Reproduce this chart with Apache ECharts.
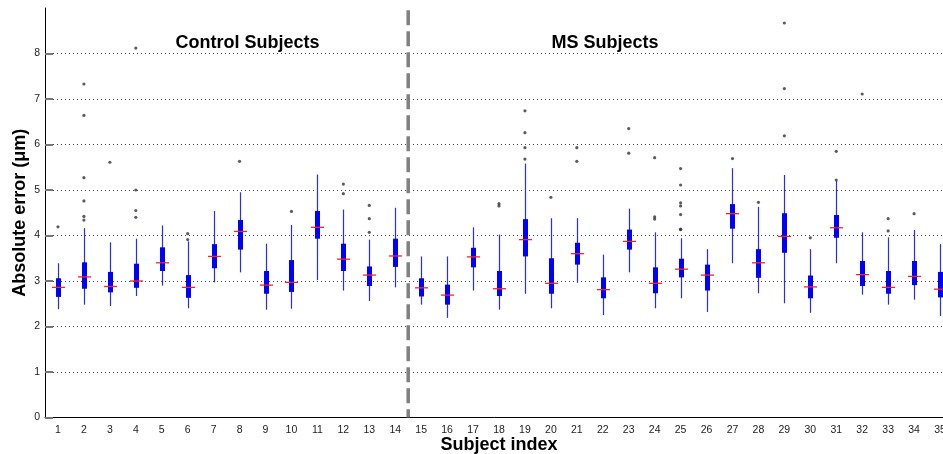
<!DOCTYPE html>
<html>
<head>
<meta charset="utf-8">
<script src="https://cdn.jsdelivr.net/npm/echarts@6/dist/echarts.min.js"></script>
<style>html,body{margin:0;padding:0;background:#fff;}#c{width:943px;height:454px;}</style>
</head>
<body>
<div id="c"></div>
<script>
const categories = ['1','2','3','4','5','6','7','8','9','10','11','12','13','14','15','16','17','18','19','20','21','22','23','24','25','26','27','28','29','30','31','32','33','34','35'];
const yTicks = [0,1,2,3,4,5,6,7,8];
const whiskerLow  = [2.38,2.48,2.45,2.67,2.90,2.40,2.97,3.19,2.37,2.39,3.02,2.79,2.56,2.86,2.48,2.19,2.79,2.37,2.72,2.40,2.96,2.25,3.19,2.40,2.62,2.32,3.39,2.73,2.51,2.30,3.39,2.70,2.48,2.59,2.23];
const q1          = [2.65,2.83,2.75,2.85,3.22,2.63,3.28,3.69,2.72,2.76,3.93,3.22,2.89,3.31,2.66,2.48,3.30,2.67,3.54,2.72,3.36,2.62,3.69,2.73,3.08,2.79,4.15,3.07,3.62,2.62,3.95,2.89,2.72,2.91,2.64];
const median      = [2.86,3.09,2.88,3.00,3.40,2.86,3.54,4.09,2.91,2.97,4.18,3.48,3.13,3.55,2.85,2.69,3.53,2.83,3.91,2.95,3.60,2.81,3.87,2.95,3.26,3.13,4.48,3.40,3.98,2.87,4.17,3.14,2.86,3.10,2.82];
const q3          = [3.06,3.41,3.20,3.38,3.74,3.13,3.81,4.34,3.22,3.46,4.54,3.82,3.32,3.93,3.06,2.92,3.73,3.22,4.36,3.50,3.84,3.08,4.13,3.30,3.49,3.36,4.69,3.70,4.49,3.12,4.45,3.44,3.22,3.44,3.20];
const whiskerHigh = [3.39,4.16,3.85,3.93,4.22,3.87,4.54,4.95,3.82,4.23,5.34,4.57,3.91,4.61,3.54,3.54,4.18,4.02,5.58,4.38,4.38,3.58,4.59,4.07,3.94,3.70,5.48,4.63,5.33,3.70,5.20,4.07,3.96,4.12,3.81];
// [subject, value]
const outliers = [
  [1,4.19],
  [2,7.33],[2,6.64],[2,5.27],[2,4.76],[2,4.42],[2,4.34],
  [3,5.61],
  [4,8.12],[4,5.00],[4,4.55],[4,4.40],
  [6,4.04],[6,3.91],
  [8,5.63],
  [10,4.53],
  [12,5.13],[12,4.92],
  [13,4.66],[13,4.37],[13,4.07],
  [18,4.70],[18,4.65],
  [19,6.74],[19,6.26],[19,5.93],[19,5.68],
  [20,4.84],
  [21,5.93],[21,5.63],
  [23,6.35],[23,5.81],
  [24,5.71],[24,4.41],[24,4.36],
  [25,5.47],[25,5.11],[25,4.72],[25,4.65],[25,4.46],[25,4.14],[25,4.13],
  [27,5.69],
  [28,4.73],
  [29,8.67],[29,7.23],[29,6.19],
  [30,3.95],
  [31,5.85],[31,5.22],
  [32,7.11],
  [33,4.37],[33,4.10],
  [34,4.48]
];
const groupTitles = ['Control Subjects', 'MS Subjects'];
const separatorAfter = 14; // dashed line between subject 14 and 15

const FONT = '"Liberation Sans", Arial, Helvetica, sans-serif';
const boxData = categories.map((c, k) => [k, whiskerLow[k], q1[k], median[k], q3[k], whiskerHigh[k]]);
const outlierData = outliers.map(o => [o[0] - 1, o[1]]);

const chart = echarts.init(document.getElementById('c'), null, {renderer: 'canvas'});
chart.setOption({
  animation: false,
  backgroundColor: '#fff',
  grid: {left: 45, top: 8, width: 908, height: 409.5, containLabel: false, outerBoundsMode: 'none'},
  xAxis: {
    type: 'category',
    data: categories,
    boundaryGap: true,
    name: 'Subject index',
    nameLocation: 'middle',
    nameGap: 19,
    nameMoveOverlap: false,
    nameTextStyle: {fontFamily: FONT, fontWeight: 'bold', fontSize: 18, color: '#000'},
    axisLine: {show: true, lineStyle: {color: '#000', width: 1}},
    axisTick: {show: false},
    axisLabel: {fontFamily: FONT, fontSize: 10.5, color: '#222', margin: 7, interval: 0},
    splitLine: {show: false}
  },
  yAxis: {
    type: 'value',
    min: 0, max: 9, interval: 1,
    name: 'Absolute error (\u03bcm)',
    nameLocation: 'middle',
    nameRotate: 90,
    nameGap: 16,
    nameMoveOverlap: false,
    nameTextStyle: {fontFamily: FONT, fontWeight: 'bold', fontSize: 18, color: '#000'},
    axisLine: {show: true, lineStyle: {color: '#000', width: 1}},
    axisTick: {show: true, inside: true, length: 8, customValues: yTicks, lineStyle: {color: '#777', width: 2}},
    axisLabel: {fontFamily: FONT, fontSize: 10.5, color: '#222', margin: 5, customValues: yTicks},
    splitLine: {show: true, showMinLine: false, lineStyle: {color: '#444', width: 1, type: [1, 3]}}
  },
  graphic: [
    {type: 'text', x: 247.5, y: 43, style: {text: groupTitles[0], font: 'bold 18px ' + FONT, fill: '#000', align: 'center', verticalAlign: 'middle'}},
    {type: 'text', x: 605, y: 43, style: {text: groupTitles[1], font: 'bold 18px ' + FONT, fill: '#000', align: 'center', verticalAlign: 'middle'}}
  ],
  series: [
    {
      type: 'custom',
      silent: true,
      data: [[separatorAfter - 1, separatorAfter]],
      encode: {x: [0, 1]},
      renderItem: function (params, api) {
        const a = api.coord([api.value(0), 0]);
        const b = api.coord([api.value(1), 0]);
        const top = api.coord([api.value(0), 8.95]);
        const x = (a[0] + b[0]) / 2;
        return {type: 'line', shape: {x1: x, y1: top[1], x2: x, y2: a[1]},
          style: {stroke: '#808080', lineWidth: 3.5, lineDash: [15, 6]}};
      },
      z: 1
    },
    {
      type: 'custom',
      data: boxData,
      encode: {x: 0, y: [1, 2, 3, 4, 5]},
      renderItem: function (params, api) {
        const i = api.value(0);
        const lo = api.coord([i, api.value(1)]);
        const b1 = api.coord([i, api.value(2)]);
        const md = api.coord([i, api.value(3)]);
        const b3 = api.coord([i, api.value(4)]);
        const hi = api.coord([i, api.value(5)]);
        const x = Math.round(md[0]) + 0.5;
        return {type: 'group', children: [
          {type: 'line', shape: {x1: x, y1: hi[1], x2: x, y2: lo[1]}, style: {stroke: '#2a2aff', lineWidth: 1.2}},
          {type: 'rect', shape: {x: x - 2.5, y: b3[1], width: 5, height: b1[1] - b3[1]}, style: {fill: '#0000ff'}},
          {type: 'line', shape: {x1: x - 6.5, y1: md[1], x2: x + 6.5, y2: md[1]}, style: {stroke: '#ff2020', lineWidth: 1.3}}
        ]};
      },
      z: 3
    },
    {
      type: 'scatter',
      data: outlierData,
      symbol: 'circle',
      symbolSize: 3.2,
      itemStyle: {color: '#333'},
      silent: true,
      z: 4
    }
  ]
});
</script>
</body>
</html>
